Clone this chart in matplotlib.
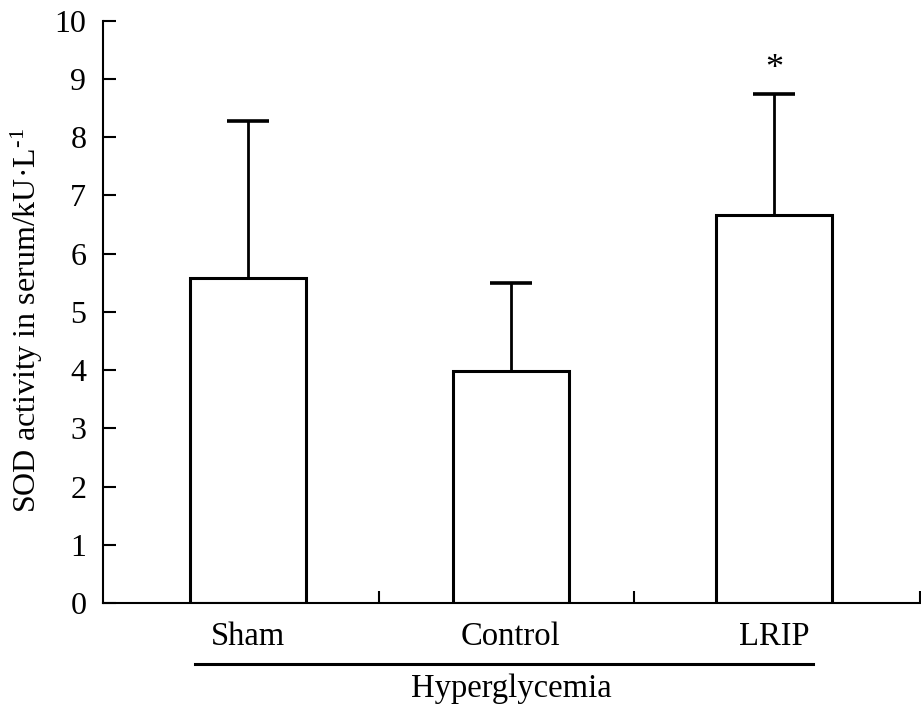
import matplotlib
matplotlib.use('Agg')
import matplotlib.pyplot as plt
import matplotlib.transforms as mtransforms

plt.rcParams['font.family'] = ['Liberation Serif', 'DejaVu Serif']
plt.rcParams['mathtext.fontset'] = 'custom'
plt.rcParams['mathtext.rm'] = 'Liberation Serif'
plt.rcParams['mathtext.it'] = 'Liberation Serif'

# data
groups = ['Sham', 'Control', 'LRIP']
means = [5.58, 3.98, 6.66]
upper_err = [2.70, 1.51, 2.09]
yticks = [0, 1, 2, 3, 4, 5, 6, 7, 8, 9, 10]
group_label = 'Hyperglycemia'
sig_mark = '*'

fig = plt.figure(figsize=(9.21, 7.07), dpi=100)
ax = fig.add_axes([0.1118, 0.1471, 0.8871, 0.8236])

x = list(range(len(groups)))
ax.bar(x, means, width=0.44, color='white', edgecolor='black', linewidth=2.2, zorder=2)
eb = ax.errorbar(x, means, yerr=[[0] * len(means), upper_err], fmt='none',
                 ecolor='black', elinewidth=2.0, capsize=15, capthick=2.6, zorder=1)
# hide the lower caps (they sit on the bar tops)
eb[1][0].set_visible(False)

# significance mark above LRIP
ax.text(x[2], means[2] + upper_err[2] + 0.42, sig_mark, ha='center', va='center', fontsize=26)

ax.set_xlim(-0.55, 2.555)
ax.set_ylim(0, 10)
ax.set_yticks(yticks)
ax.set_xticks([0.5, 1.47, 2.555])
ax.set_xticklabels([])
ax.tick_params(axis='both', direction='in', length=9, width=1.5, labelsize=23)
ax.tick_params(axis='y', pad=12)

ax.spines['top'].set_visible(False)
ax.spines['right'].set_visible(False)
ax.spines['left'].set_linewidth(1.5)
ax.spines['bottom'].set_linewidth(1.5)

trans = mtransforms.blended_transform_factory(ax.transData, ax.transAxes)
for xi, name in zip(x, groups):
    ax.text(xi, -0.058, name, transform=trans, ha='center', va='center', fontsize=23.5)
ax.plot([-0.2, 2.15], [-0.105, -0.105], transform=trans, color='black', lw=2.2, clip_on=False)
ax.text(1.0, -0.147, group_label, transform=trans, ha='center', va='center', fontsize=23.5)

fig.text(0.029, 0.546, 'SOD activity in serum/kU·L$^{\u2010 1}$', rotation=90,
         ha='center', va='center', fontsize=23)

fig.savefig('out.png', dpi=100)
